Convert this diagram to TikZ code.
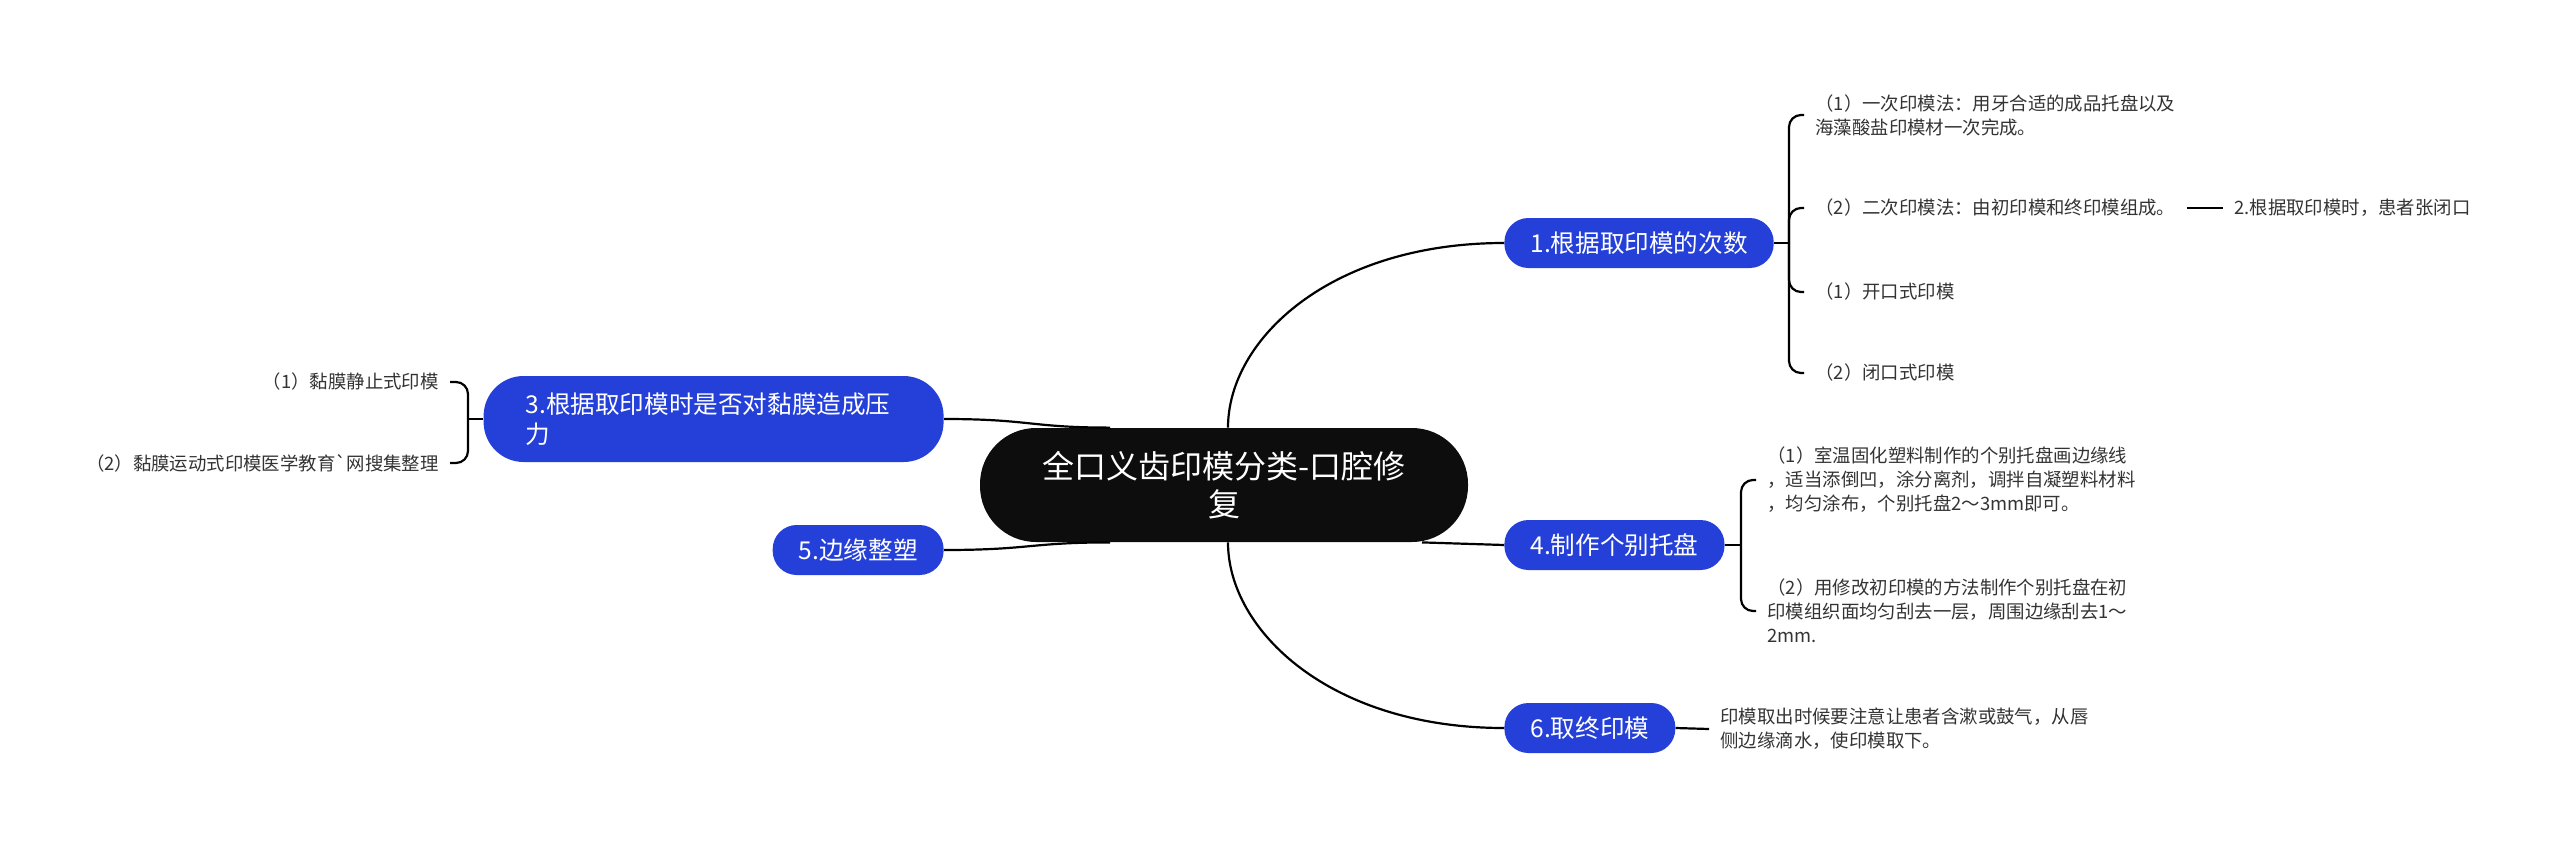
\documentclass[tikz,border=0pt]{standalone}
\usepackage{fontspec}
\setmainfont{Noto Sans CJK SC}[Ligatures=TeXOff]
\usepackage{tikz}
\usetikzlibrary{calc}
\usepackage{xcolor}
\definecolor{mapBlue}{RGB}{37, 64, 216}
\definecolor{mapRoot}{RGB}{13, 13, 13}
\definecolor{leafText}{RGB}{51, 51, 51}

\begin{document}
\begin{tikzpicture}[x=0.5pt, y=-0.5pt,
  root/.style={fill=mapRoot, text=white, rounded corners=28pt, align=center,
    minimum width=244pt, minimum height=57pt, inner xsep=0pt, font=\fontsize{16}{19}\selectfont},
  topic/.style={fill=mapBlue, text=white, rounded corners=12pt, minimum height=25pt,
    inner xsep=13pt, font=\fontsize{12.3}{15}\selectfont},
  leaf/.style={text=leafText, align=left, inner xsep=5.5pt, inner ysep=2pt,
    font=\fontsize{9.2}{12}\selectfont},
  link/.style={line width=1.1pt},
  brace/.style={line width=1.1pt, rounded corners=6pt}]
  \useasboundingbox (0,0) rectangle (2560,841);

  % Central topic
  \node[root] (root) at (1224,485) {全口义齿印模分类-口腔修\\复};

  % Main branches
  \node[topic, anchor=west] (n1) at (1504,243) {1.根据取印模的次数};
  \node[topic, anchor=west] (n4) at (1504,545) {4.制作个别托盘};
  \node[topic, anchor=west] (n6) at (1504,728) {6.取终印模};
  \node[topic, anchor=east, rounded corners=20pt, text width=188pt, align=left,
    inner xsep=21pt, minimum height=43pt] (n3) at (944,419)
    {3.根据取印模时是否对黏膜造成压\\力};
  \node[topic, anchor=east] (n5) at (944,550) {5.边缘整塑};

  \draw[link] ($(root.north)+(4,0)$) .. controls +(0,-88) and +(-174,0) .. (n1.west);
  \draw[link] ($(root.south)+(198,0)$) -- (n4.west);
  \draw[link] ($(root.south)+(4,0)$) .. controls +(0,88) and +(-174,0) .. (n6.west);
  \draw[link] (n3.east) .. controls +(86,0) and +(-80,0) .. ($(root.north)+(-114,0)$);
  \draw[link] (n5.east) .. controls +(86,0) and +(-80,0) .. ($(root.south)+(-114,0)$);

  % Leaves of 1
  \node[leaf, anchor=west] (c11) at (1804,115)
    {（1）一次印模法：用牙合适的成品托盘以及\\海藻酸盐印模材一次完成。};
  \node[leaf, anchor=west] (c12) at (1804,208) {（2）二次印模法：由初印模和终印模组成。};
  \node[leaf, anchor=west] (c13) at (1804,292) {（1）开口式印模};
  \node[leaf, anchor=west] (c14) at (1804,373) {（2）闭口式印模};
  \node[leaf, anchor=west] (c121) at (2223,208) {2.根据取印模时，患者张闭口};

  \coordinate (b1) at (1789,243);
  \draw[link] (n1.east) -- (b1);
  \draw[brace] (b1) |- (c11.west);
  \draw[brace] (b1) |- (c12.west);
  \draw[brace] (b1) |- (c13.west);
  \draw[brace] (b1) |- (c14.west);
  \draw[link] (c12.east) -- (c121.west);

  % Leaves of 4
  \node[leaf, anchor=west] (c41) at (1756,480)
    {（1）室温固化塑料制作的个别托盘画边缘线\\，适当添倒凹，涂分离剂，调拌自凝塑料材料\\，均匀涂布，个别托盘2～3mm即可。};
  \node[leaf, anchor=west] (c42) at (1756,611)
    {（2）用修改初印模的方法制作个别托盘在初\\印模组织面均匀刮去一层，周围边缘刮去1～\\2mm.};

  \coordinate (b4) at (1741,545);
  \draw[link] (n4.east) -- (b4);
  \draw[brace] (b4) |- (c41.west);
  \draw[brace] (b4) |- (c42.west);

  % Leaf of 6
  \node[leaf, anchor=west] (c61) at (1709,729)
    {印模取出时候要注意让患者含漱或鼓气，从唇\\侧边缘滴水，使印模取下。};
  \draw[link] (n6.east) -- (c61.west);

  % Leaves of 3
  \node[leaf, anchor=east] (c31) at (450,382) {（1）黏膜静止式印模};
  \node[leaf, anchor=east] (c32) at (450,463) {（2）黏膜运动式印模医学教育`网搜集整理};

  \coordinate (b3) at (468,419);
  \draw[link] (n3.west) -- (b3);
  \draw[brace] (b3) |- (c31.east);
  \draw[brace] (b3) |- (c32.east);
\end{tikzpicture}
\end{document}
